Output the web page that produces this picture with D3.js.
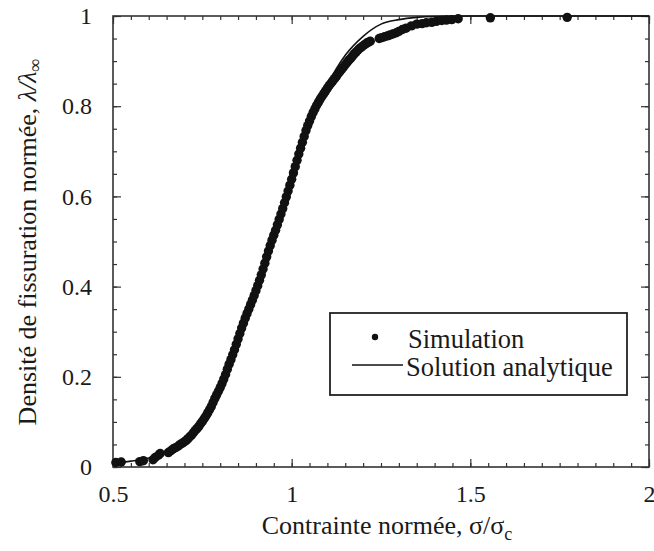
<!DOCTYPE html>
<html>
<head>
<meta charset="utf-8">
<script src="https://cdn.jsdelivr.net/npm/d3@7"></script>
</head>
<body style="margin:0;background:#fff">
<svg id="chart" width="654" height="551" style="display:block"></svg>
<script>
// ---- Data ----
const xTicks = [0.5, 1, 1.5, 2];
const xTickLabels = ["0.5", "1", "1.5", "2"];
const yTicks = [0, 0.2, 0.4, 0.6, 0.8, 1];
const yTickLabels = ["0", "0.2", "0.4", "0.6", "0.8", "1"];

// Simulation (dots): normalised stress and normalised crack density
const simSigma = [
  0.508, 0.523, 0.575, 0.585, 0.612, 0.618, 0.627, 0.632, 0.655, 0.662, 0.668, 0.675, 0.682, 0.688, 0.694,
  0.700, 0.705, 0.710, 0.715, 0.720, 0.725, 0.730, 0.735, 0.740, 0.745, 0.750, 0.755, 0.760, 0.765, 0.770,
  0.775, 0.780, 0.785, 0.790, 0.795, 0.800, 0.805, 0.810, 0.815, 0.820, 0.825, 0.830, 0.835, 0.840, 0.845,
  0.850, 0.855, 0.860, 0.865, 0.870, 0.875, 0.880, 0.885, 0.890, 0.895, 0.900, 0.905, 0.910, 0.915, 0.920,
  0.925, 0.930, 0.935, 0.940, 0.945, 0.950, 0.955, 0.960, 0.965, 0.970, 0.975, 0.980, 0.985, 0.990, 0.995,
  1.000, 1.005, 1.010, 1.015, 1.020, 1.025, 1.030, 1.035, 1.040, 1.045, 1.050, 1.055, 1.060, 1.065, 1.070,
  1.075, 1.080, 1.085, 1.090, 1.095, 1.100, 1.105, 1.110, 1.115, 1.120, 1.125, 1.130, 1.135, 1.140, 1.145,
  1.150, 1.155, 1.160, 1.165, 1.170, 1.175, 1.180, 1.185, 1.190, 1.195, 1.200, 1.205, 1.210, 1.215, 1.220,
  1.245, 1.252, 1.260, 1.268, 1.275, 1.283, 1.293, 1.300, 1.310, 1.320, 1.335, 1.350, 1.365, 1.377, 1.392,
  1.405, 1.420, 1.433, 1.448, 1.466, 1.556, 1.771
];
const simLambda = [
  0.010, 0.011, 0.012, 0.014, 0.016, 0.021, 0.026, 0.030, 0.032, 0.036, 0.040, 0.043, 0.046, 0.050, 0.053,
  0.056, 0.059, 0.063, 0.067, 0.071, 0.076, 0.081, 0.085, 0.090, 0.096, 0.101, 0.107, 0.113, 0.120, 0.127,
  0.134, 0.143, 0.152, 0.160, 0.168, 0.176, 0.185, 0.195, 0.205, 0.217, 0.228, 0.238, 0.249, 0.260, 0.272,
  0.284, 0.296, 0.308, 0.319, 0.330, 0.340, 0.350, 0.360, 0.370, 0.380, 0.391, 0.402, 0.414, 0.426, 0.439,
  0.452, 0.466, 0.479, 0.491, 0.503, 0.514, 0.525, 0.537, 0.549, 0.561, 0.573, 0.586, 0.599, 0.612, 0.625,
  0.638, 0.652, 0.666, 0.680, 0.694, 0.707, 0.720, 0.733, 0.746, 0.757, 0.767, 0.777, 0.786, 0.794, 0.802,
  0.809, 0.816, 0.822, 0.828, 0.834, 0.840, 0.846, 0.851, 0.856, 0.861, 0.866, 0.872, 0.877, 0.882, 0.887,
  0.892, 0.897, 0.902, 0.906, 0.911, 0.916, 0.920, 0.924, 0.928, 0.931, 0.934, 0.937, 0.940, 0.942, 0.944,
  0.950, 0.952, 0.954, 0.956, 0.958, 0.960, 0.963, 0.966, 0.970, 0.973, 0.978, 0.982, 0.983, 0.985, 0.986,
  0.988, 0.990, 0.991, 0.992, 0.994, 0.996, 0.997
];

// Analytic solution (line)
const anaSigma  = [0.50, 0.55, 0.60, 0.65, 0.70, 0.75, 0.80, 0.85, 0.90, 0.95, 1.00, 1.05, 1.10, 1.15, 1.20, 1.25, 1.30, 1.35, 1.40, 1.50, 2.00];
const anaLambda = [0.008, 0.013, 0.020, 0.033, 0.055, 0.095, 0.170, 0.280, 0.390, 0.515, 0.640, 0.765, 0.848, 0.913, 0.955, 0.982, 0.992, 0.997, 0.999, 1.000, 1.000];

const legendLabels = ["Simulation", "Solution analytique"];

// ---- Layout ----
const FONT = "'Liberation Serif', serif";
const TXT = "#1a1a1a";
const svg = d3.select("#chart");
const mLeft = 113, mRight = 649, mTop = 16, mBottom = 467;

const x = d3.scaleLinear().domain([0.5, 2]).range([mLeft, mRight]);
const y = d3.scaleLinear().domain([0, 1]).range([mBottom, mTop]);

const axisColor = "#333";
const xMinor = d3.range(0.5, 2.0001, 0.05).map(v => +v.toFixed(2));
const yMinor = d3.range(0, 1.0001, 0.05).map(v => +v.toFixed(2));

function styleAxis(g) {
  g.attr("font-family", FONT);
  g.select(".domain").remove();
  g.selectAll("line").attr("stroke", axisColor).attr("stroke-width", 1.2);
}

// minor ticks (inward) on all four sides
svg.append("g").attr("transform", `translate(0,${mBottom})`)
  .call(d3.axisBottom(x).tickValues(xMinor).tickSize(-4).tickFormat(""))
  .call(styleAxis);
svg.append("g").attr("transform", `translate(0,${mTop})`)
  .call(d3.axisTop(x).tickValues(xMinor).tickSize(-4).tickFormat(""))
  .call(styleAxis);
svg.append("g").attr("transform", `translate(${mLeft},0)`)
  .call(d3.axisLeft(y).tickValues(yMinor).tickSize(-4).tickFormat(""))
  .call(styleAxis);
svg.append("g").attr("transform", `translate(${mRight},0)`)
  .call(d3.axisRight(y).tickValues(yMinor).tickSize(-4).tickFormat(""))
  .call(styleAxis);

// major ticks with labels
const gx = svg.append("g").attr("transform", `translate(0,${mBottom})`)
  .call(d3.axisBottom(x).tickValues(xTicks).tickSize(-8).tickPadding(18)
    .tickFormat((d, i) => xTickLabels[i]))
  .call(styleAxis);
gx.selectAll("text").attr("font-size", 24).attr("fill", TXT).attr("font-family", FONT);

const gy = svg.append("g").attr("transform", `translate(${mLeft},0)`)
  .call(d3.axisLeft(y).tickValues(yTicks).tickSize(-8).tickPadding(21)
    .tickFormat((d, i) => yTickLabels[i]))
  .call(styleAxis);
gy.selectAll("text").attr("font-size", 24).attr("fill", TXT).attr("font-family", FONT);

svg.append("g").attr("transform", `translate(0,${mTop})`)
  .call(d3.axisTop(x).tickValues(xTicks).tickSize(-8).tickFormat(""))
  .call(styleAxis);
svg.append("g").attr("transform", `translate(${mRight},0)`)
  .call(d3.axisRight(y).tickValues(yTicks).tickSize(-8).tickFormat(""))
  .call(styleAxis);

// frame
svg.append("rect")
  .attr("x", mLeft).attr("y", mTop)
  .attr("width", mRight - mLeft).attr("height", mBottom - mTop)
  .attr("fill", "none").attr("stroke", axisColor).attr("stroke-width", 1.6);

// analytic line
const anaData = anaSigma.map((s, i) => [s, anaLambda[i]]);
const line = d3.line().x(d => x(d[0])).y(d => y(d[1])).curve(d3.curveMonotoneX);
svg.append("path").datum(anaData)
  .attr("d", line).attr("fill", "none")
  .attr("stroke", "#111").attr("stroke-width", 1.6);

// simulation dots
const simData = simSigma.map((s, i) => [s, simLambda[i]]);
svg.append("g").selectAll("circle").data(simData).join("circle")
  .attr("cx", d => x(d[0])).attr("cy", d => y(d[1]))
  .attr("r", 4.7).attr("fill", "#111");

// axis titles
const xt = svg.append("text")
  .attr("x", 387).attr("y", 534)
  .attr("text-anchor", "middle").attr("font-size", 26)
  .attr("font-family", FONT).attr("fill", TXT);
xt.append("tspan").text("Contrainte normée, σ/σ");
xt.append("tspan").attr("font-size", 18).attr("dy", 6).text("c");

const yt = svg.append("text")
  .attr("transform", `translate(36,242) rotate(-90)`)
  .attr("text-anchor", "middle").attr("font-size", 26)
  .attr("font-family", FONT).attr("fill", TXT);
yt.append("tspan").text("Densité de fissuration normée, ");
yt.append("tspan").attr("font-style", "italic").text("λ/λ");
yt.append("tspan").attr("font-style", "italic").attr("font-size", 18).attr("dy", 5).text("∞");

// legend
const lg = svg.append("g").attr("font-family", FONT);
lg.append("rect").attr("x", 330).attr("y", 313).attr("width", 297).attr("height", 82)
  .attr("fill", "#fff").attr("stroke", "#222").attr("stroke-width", 1.8);
lg.append("circle").attr("cx", 375).attr("cy", 337).attr("r", 3.2).attr("fill", "#111");
lg.append("line").attr("x1", 352).attr("x2", 403).attr("y1", 365).attr("y2", 365)
  .attr("stroke", "#111").attr("stroke-width", 1.6);
lg.append("text").attr("x", 408).attr("y", 348).attr("font-size", 26.5)
  .attr("font-family", FONT).attr("fill", TXT).text(legendLabels[0]);
lg.append("text").attr("x", 406).attr("y", 376).attr("font-size", 26.5)
  .attr("font-family", FONT).attr("fill", TXT).text(legendLabels[1]);
</script>
</body>
</html>
